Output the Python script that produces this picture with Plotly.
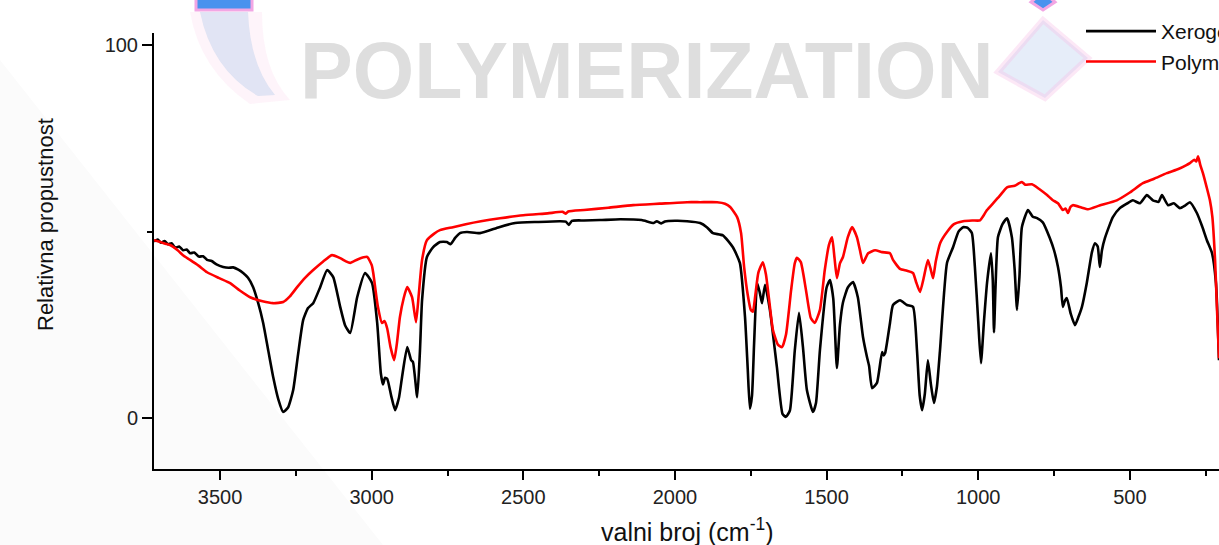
import plotly.graph_objects as go

# FTIR transmittance spectra: xerogel vs. polymer
wn_xerogel = [3718, 3706, 3695, 3683, 3672, 3660, 3648, 3635, 3622, 3610, 3599, 3585, 3570, 3556,
              3543, 3528, 3512, 3490, 3472, 3457, 3440, 3424, 3408, 3391, 3375, 3358, 3341, 3325,
              3308, 3292, 3276, 3259, 3243, 3226, 3210, 3193, 3170, 3147, 3127, 3104, 3088, 3071,
              3048, 3022, 2999, 2982, 2970, 2963, 2956, 2949, 2936, 2923, 2910, 2900, 2883, 2870,
              2864, 2850, 2841, 2834, 2818, 2798, 2775, 2752, 2740, 2725, 2709, 2686, 2643, 2580,
              2527, 2450, 2380, 2360, 2350, 2340, 2300, 2247, 2180, 2110, 2070, 2060, 2045, 2033,
              2000, 1960, 1917, 1895, 1875, 1842, 1809, 1786, 1769, 1760, 1753, 1746, 1739, 1729,
              1720, 1713, 1703, 1687, 1664, 1645, 1634, 1621, 1605, 1591, 1578, 1565, 1545, 1535,
              1522, 1500, 1489, 1478, 1466, 1456, 1446, 1430, 1413, 1397, 1380, 1367, 1360, 1350,
              1334, 1317, 1312, 1307, 1291, 1281, 1258, 1235, 1215, 1202, 1193, 1185, 1176, 1166,
              1156, 1146, 1136, 1126, 1103, 1083, 1065, 1050, 1035, 1021, 1011, 1000, 991, 981,
              971, 958, 952, 948, 943, 935, 920, 905, 889, 880, 872, 864, 856, 836, 820, 806, 787,
              764, 750, 737, 727, 721, 714, 708, 695, 681, 670, 658, 642, 625, 615, 606, 599, 592,
              582, 556, 533, 510, 490, 467, 444, 424, 405, 394, 374, 355, 335, 318, 302, 279, 262,
              246, 229, 216, 206]
t_xerogel = [47.4, 47.9, 47.0, 47.5, 46.6, 46.9, 45.7, 46.0, 45.0, 45.2, 44.2, 44.4, 43.3, 43.4,
             42.4, 42.1, 41.2, 40.5, 40.3, 40.4, 39.8, 38.9, 37.6, 35.1, 31.0, 25.5, 18.0, 11.0,
             5.0, 1.6, 2.8, 7.5, 17.0, 26.3, 29.5, 30.8, 35.1, 39.7, 37.8, 29.8, 24.9, 22.8,
             32.4, 38.9, 36.2, 25.5, 12.0, 9.0, 10.8, 10.5, 6.0, 2.1, 5.5, 11.0, 19.0, 15.5,
             15.0, 5.6, 18.0, 31.6, 43.2, 45.8, 47.2, 47.2, 46.6, 48.3, 49.6, 49.9, 49.6, 51.2,
             52.3, 52.6, 52.8, 52.7, 51.8, 52.9, 53.0, 53.1, 53.3, 53.1, 52.3, 52.8, 52.2, 52.7,
             52.9, 52.8, 52.3, 51.2, 49.6, 49.0, 45.8, 41.6, 27.0, 13.0, 2.5, 6.0, 20.1, 36.2,
             33.5, 30.8, 35.7, 29.0, 13.7, 1.0, 0.3, 2.0, 18.0, 28.2, 19.0, 7.5, 1.6, 4.0,
             18.2, 35.0, 37.0, 32.0, 13.4, 25.0, 31.0, 35.0, 36.5, 32.4, 21.7, 16.4, 14.0, 8.0,
             9.4, 17.7, 16.8, 17.4, 25.5, 30.3, 31.6, 30.3, 29.8, 18.2, 6.0, 2.1, 6.5, 15.5,
             9.0, 4.0, 8.5, 18.2, 41.6, 45.8, 50.0, 51.2, 51.0, 49.6, 40.5, 26.0, 14.7, 26.0,
             36.2, 44.2, 37.0, 23.0, 35.0, 48.5, 52.0, 53.6, 48.5, 40.0, 29.0, 38.0, 51.2, 55.8,
             54.0, 53.6, 52.5, 48.3, 45.0, 40.5, 35.0, 29.8, 31.5, 32.2, 28.0, 24.9, 27.0, 29.8,
             36.2, 44.5, 46.9, 46.0, 40.5, 45.0, 48.3, 53.9, 56.3, 57.5, 58.4, 57.6, 59.8, 58.4,
             58.0, 59.8, 57.1, 57.6, 56.3, 57.0, 57.9, 55.0, 51.5, 47.7, 44.2, 36.2, 15.5]

wn_polymer = [3718, 3700, 3683, 3665, 3640, 3620, 3599, 3570, 3543, 3505, 3467, 3435, 3401, 3360,
              3325, 3292, 3270, 3246, 3220, 3193, 3160, 3131, 3104, 3085, 3071, 3045, 3015, 3000,
              2995, 2980, 2966, 2958, 2949, 2938, 2926, 2917, 2907, 2895, 2883, 2867, 2854, 2845,
              2834, 2818, 2795, 2775, 2732, 2690, 2640, 2577, 2500, 2420, 2370, 2360, 2352, 2300,
              2220, 2138, 2050, 1960, 1917, 1861, 1835, 1818, 1795, 1782, 1772, 1760, 1750, 1743,
              1735, 1725, 1710, 1700, 1690, 1677, 1660, 1647, 1634, 1617, 1605, 1598, 1585, 1568,
              1552, 1539, 1522, 1506, 1492, 1482, 1474, 1466, 1456, 1446, 1430, 1416, 1400, 1390,
              1380, 1363, 1340, 1317, 1291, 1281, 1258, 1235, 1215, 1205, 1192, 1180, 1166, 1157,
              1149, 1140, 1125, 1103, 1080, 1050, 1020, 994, 985, 971, 951, 930, 905, 880, 865,
              856, 845, 823, 800, 773, 755, 737, 721, 712, 704, 696, 688, 660, 638, 600, 543, 500,
              457, 420, 378, 340, 315, 302, 288, 281, 275, 268, 259, 247, 236, 228, 219, 213, 206]
t_polymer = [47.7, 47.3, 46.8, 46.4, 45.0, 43.5, 42.4, 40.8, 39.1, 37.6, 36.2, 34.2, 32.4, 31.3,
             30.8, 31.1, 32.6, 35.1, 37.6, 39.7, 42.0, 43.7, 42.9, 42.0, 41.6, 42.6, 43.2, 41.0,
             38.9, 30.0, 25.5, 26.0, 24.0, 19.0, 15.5, 20.0, 27.1, 32.0, 35.1, 32.4, 25.7, 33.0,
             42.4, 47.7, 49.4, 50.4, 51.2, 52.0, 52.8, 53.6, 54.4, 54.9, 55.3, 54.8, 55.4, 55.8,
             56.4, 57.1, 57.5, 57.9, 57.9, 57.9, 57.5, 56.6, 53.9, 49.6, 40.5, 33.0, 29.0, 28.5,
             33.0, 39.0, 41.8, 38.5, 32.0, 23.6, 19.6, 19.0, 22.3, 34.3, 41.5, 43.0, 41.8, 34.3,
             26.8, 25.5, 29.0, 39.7, 46.5, 48.5, 43.0, 37.5, 41.5, 43.2, 48.5, 51.2, 48.5, 45.0,
             41.6, 44.2, 45.0, 44.5, 44.2, 42.4, 40.0, 39.5, 38.9, 36.5, 33.8, 37.5, 42.4, 40.0,
             37.5, 42.0, 47.0, 49.9, 52.0, 52.8, 53.0, 53.0, 54.0, 55.8, 57.6, 59.5, 61.9, 62.3,
             63.0, 63.3, 62.6, 62.7, 61.5, 59.8, 58.5, 57.6, 55.8, 56.2, 55.0, 56.6, 57.1, 56.5,
             56.0, 57.0, 58.4, 60.5, 63.0, 64.2, 65.7, 66.8, 67.8, 68.4, 69.3, 68.8, 70.2, 68.0,
             65.7, 62.0, 58.4, 54.0, 42.4, 30.0, 16.0]

series_names = ["Xerogel", "Polymer"]
series_colors = ["#000000", "#ff0000"]

FONT = "Liberation Sans, Arial, sans-serif"
W, H = 1219, 545
L, R, T, B = 154, 1219, 33, 469  # plot-area box in pixels


def px(x):
    return (x - L) / (R - L)


def py(y):
    return (B - y) / (B - T)


fig = go.Figure()
for wn, t, name, color in [(wn_xerogel, t_xerogel, series_names[0], series_colors[0]),
                           (wn_polymer, t_polymer, series_names[1], series_colors[1])]:
    fig.add_trace(go.Scatter(x=wn, y=t, mode="lines", name=name,
                             line=dict(color=color, width=2.6, shape="spline", smoothing=0.5)))

# soft background decoration: grey diagonal panel and logo glyphs
shapes = [
    dict(type="path", xref="paper", yref="paper", layer="below",
         path=f"M {px(0)},{py(60)} L {px(0)},{py(545)} L {px(383)},{py(545)} Z",
         fillcolor="#fbfbfb", line=dict(width=0)),
    dict(type="path", xref="paper", yref="paper", layer="below",
         path=(f"M {px(190)},{py(12)} L {px(262)},{py(12)} Q {px(262)},{py(70)} {px(290)},{py(100)} "
               f"L {px(250)},{py(104)} Q {px(200)},{py(70)} {px(190)},{py(12)} Z"),
         fillcolor="rgba(250,205,232,0.22)", line=dict(width=0)),
    dict(type="path", xref="paper", yref="paper", layer="below",
         path=(f"M {px(200)},{py(12)} L {px(248)},{py(12)} Q {px(250)},{py(65)} {px(275)},{py(95)} "
               f"L {px(258)},{py(96)} Q {px(212)},{py(70)} {px(200)},{py(12)} Z"),
         fillcolor="rgba(196,212,238,0.5)", line=dict(width=0)),
    dict(type="rect", xref="paper", yref="paper", layer="below",
         x0=px(196), x1=px(252), y0=py(-6), y1=py(10),
         fillcolor="#4a92ee", line=dict(color="#f2a6e4", width=3)),
    dict(type="path", xref="paper", yref="paper", layer="below",
         path=(f"M {px(1043)},{py(20)} L {px(1088)},{py(58)} L {px(1045)},{py(98)} "
               f"L {px(998)},{py(72)} Z"),
         fillcolor="rgba(200,216,242,0.45)", line=dict(color="rgba(245,190,228,0.35)", width=6)),
    dict(type="path", xref="paper", yref="paper", layer="below",
         path=(f"M {px(1043)},{py(-8)} L {px(1055)},{py(2)} L {px(1043)},{py(10)} "
               f"L {px(1031)},{py(2)} Z"),
         fillcolor="#4a92ee", line=dict(color="#f2a6e4", width=3)),
]

annotations = [
    dict(text="POLYMERIZATION", xref="paper", yref="paper", x=px(647), y=py(70),
         xanchor="center", yanchor="middle", showarrow=False,
         font=dict(family=FONT, size=79, color="#dedede", weight="bold")),
    dict(text="Relativna propustnost", xref="paper", yref="paper", x=px(45), y=py(225),
         xanchor="center", yanchor="middle", textangle=-90, showarrow=False,
         font=dict(family=FONT, size=22, color="#111111")),
    dict(text="valni broj (cm<sup>-1</sup>)", xref="paper", yref="paper", x=px(687), y=py(530),
         xanchor="center", yanchor="middle", showarrow=False,
         font=dict(family=FONT, size=25, color="#111111")),
]

fig.update_layout(
    width=W, height=H,
    margin=dict(l=L, r=W - R, t=T, b=H - B, pad=0, autoexpand=False),
    paper_bgcolor="white", plot_bgcolor="rgba(0,0,0,0)",
    font=dict(family=FONT, color="#111111"),
    shapes=shapes, annotations=annotations,
    showlegend=True,
    legend=dict(x=px(1081), y=py(11), xanchor="left", yanchor="top",
                bgcolor="rgba(0,0,0,0)", font=dict(family=FONT, size=21, color="#111111"),
                itemwidth=70, tracegroupgap=0),
)

fig.update_xaxes(
    range=[3718, 206], autorange=False,
    tickmode="linear", tick0=0, dtick=500,
    ticks="outside", ticklen=9, tickwidth=2, tickcolor="black",
    minor=dict(ticks="outside", dtick=250, ticklen=5, tickwidth=2, tickcolor="black"),
    showline=True, linewidth=2, linecolor="black", mirror=False,
    showgrid=False, zeroline=False,
    tickfont=dict(family=FONT, size=20, color="#222222"),
)
fig.update_yaxes(
    range=[-13.7, 103.3], autorange=False,
    tickmode="linear", tick0=0, dtick=100,
    ticks="outside", ticklen=10, tickwidth=2, tickcolor="black",
    minor=dict(ticks="outside", dtick=50, ticklen=5, tickwidth=2, tickcolor="black"),
    showline=True, linewidth=2, linecolor="black", mirror=False,
    showgrid=False, zeroline=False,
    tickfont=dict(family=FONT, size=20, color="#222222"),
)

fig.write_html("out.html")
